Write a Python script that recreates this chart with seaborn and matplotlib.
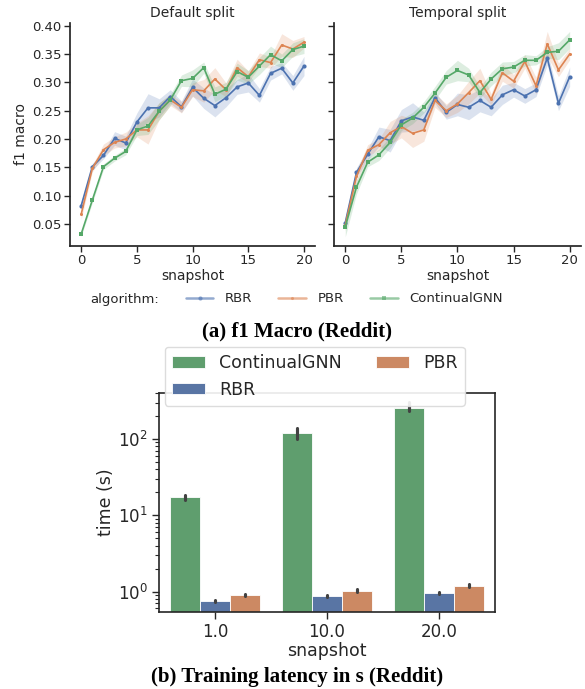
import numpy as np
import pandas as pd
import matplotlib
matplotlib.use("Agg")
import matplotlib.pyplot as plt
import seaborn as sns
from matplotlib.lines import Line2D

sns.set_theme(style="ticks")
plt.rcParams["font.family"] = ["DejaVu Sans"]

# ---------------- data ----------------
snapshots = list(range(21))
algorithms = ["RBR", "PBR", "ContinualGNN"]

# Default split: mean f1 macro and band half-width
rbr_def = [0.082, 0.151, 0.171, 0.201, 0.193, 0.230, 0.255, 0.255, 0.275, 0.257, 0.291,
           0.272, 0.259, 0.273, 0.292, 0.299, 0.277, 0.316, 0.325, 0.299, 0.329]
pbr_def = [0.067, 0.148, 0.181, 0.194, 0.200, 0.216, 0.216, 0.249, 0.269, 0.256, 0.287,
           0.285, 0.306, 0.287, 0.326, 0.310, 0.340, 0.335, 0.366, 0.359, 0.371]
gnn_def = [0.032, 0.092, 0.151, 0.166, 0.178, 0.216, 0.223, 0.249, 0.269, 0.303, 0.307,
           0.326, 0.279, 0.288, 0.319, 0.309, 0.329, 0.349, 0.338, 0.358, 0.364]
rbr_def_hw = [0.007, 0.006, 0.006, 0.012, 0.012, 0.016, 0.025, 0.016, 0.012, 0.010, 0.015,
              0.018, 0.020, 0.016, 0.013, 0.016, 0.012, 0.012, 0.010, 0.013, 0.017]
pbr_def_hw = [0.009, 0.006, 0.010, 0.010, 0.012, 0.012, 0.025, 0.015, 0.010, 0.010, 0.012,
              0.020, 0.020, 0.012, 0.015, 0.010, 0.012, 0.010, 0.020, 0.015, 0.010]
gnn_def_hw = [0.004, 0.005, 0.005, 0.005, 0.006, 0.010, 0.015, 0.015, 0.010, 0.010, 0.015,
              0.010, 0.013, 0.012, 0.015, 0.012, 0.015, 0.015, 0.012, 0.012, 0.013]

# Temporal split
rbr_tmp = [0.052, 0.141, 0.173, 0.204, 0.197, 0.232, 0.239, 0.233, 0.273, 0.247, 0.261,
           0.256, 0.268, 0.256, 0.278, 0.287, 0.276, 0.287, 0.343, 0.263, 0.310]
pbr_tmp = [0.048, 0.134, 0.180, 0.190, 0.211, 0.222, 0.210, 0.216, 0.268, 0.250, 0.262,
           0.282, 0.303, 0.270, 0.317, 0.302, 0.337, 0.294, 0.368, 0.322, 0.350]
gnn_tmp = [0.045, 0.115, 0.159, 0.172, 0.194, 0.225, 0.237, 0.256, 0.281, 0.309, 0.321,
           0.313, 0.282, 0.306, 0.324, 0.327, 0.339, 0.339, 0.353, 0.355, 0.375]
rbr_tmp_hw = [0.008, 0.008, 0.010, 0.017, 0.020, 0.020, 0.025, 0.015, 0.010, 0.012, 0.020,
              0.022, 0.020, 0.015, 0.017, 0.013, 0.013, 0.012, 0.012, 0.013, 0.017]
pbr_tmp_hw = [0.010, 0.010, 0.010, 0.010, 0.020, 0.020, 0.025, 0.020, 0.012, 0.012, 0.015,
              0.020, 0.022, 0.010, 0.015, 0.012, 0.012, 0.015, 0.022, 0.012, 0.010]
gnn_tmp_hw = [0.018, 0.012, 0.008, 0.010, 0.010, 0.010, 0.010, 0.010, 0.012, 0.012, 0.018,
              0.012, 0.010, 0.012, 0.012, 0.010, 0.010, 0.008, 0.010, 0.015, 0.015]

# Training latency (s)
bar_snapshots = ["1.0", "10.0", "20.0"]
bar_algorithms = ["ContinualGNN", "RBR", "PBR"]
time_gnn = [17.3, 119.0, 256.0]
time_gnn_lo = [16.0, 99.0, 231.0]
time_gnn_hi = [18.6, 141.0, 302.0]
time_rbr = [0.75, 0.88, 0.95]
time_rbr_lo = [0.72, 0.85, 0.92]
time_rbr_hi = [0.78, 0.91, 0.99]
time_pbr = [0.905, 1.03, 1.20]
time_pbr_lo = [0.87, 0.99, 1.15]
time_pbr_hi = [0.94, 1.07, 1.26]

# ---------------- styling ----------------
colors = {"RBR": "#4C72B0", "PBR": "#DD8452", "ContinualGNN": "#55A868"}
markers = {"RBR": "o", "PBR": "o", "ContinualGNN": "s"}
msizes = {"RBR": 3.0, "PBR": 2.2, "ContinualGNN": 3.2}


def long_df(means, hws):
    rows = []
    for alg, m, h in zip(algorithms, means, hws):
        for s, mv, hv in zip(snapshots, m, h):
            for v in (mv - hv, mv, mv + hv):
                rows.append({"snapshot": s, "algorithm": alg, "f1 macro": v})
    return pd.DataFrame(rows)


df_def = long_df([rbr_def, pbr_def, gnn_def], [rbr_def_hw, pbr_def_hw, gnn_def_hw])
df_tmp = long_df([rbr_tmp, pbr_tmp, gnn_tmp], [rbr_tmp_hw, pbr_tmp_hw, gnn_tmp_hw])

fig = plt.figure(figsize=(5.85, 6.89), dpi=100)
ax1 = fig.add_axes([0.1197, 0.643, 0.419, 0.3237])
ax2 = fig.add_axes([0.571, 0.643, 0.422, 0.3237], sharey=ax1)

for ax, df, title in ((ax1, df_def, "Default split"), (ax2, df_tmp, "Temporal split")):
    for alg in algorithms:
        sub = df[df["algorithm"] == alg]
        sns.lineplot(data=sub, x="snapshot", y="f1 macro", color=colors[alg],
                     marker=markers[alg], markersize=msizes[alg], markeredgewidth=0,
                     linewidth=1.2, estimator="median", errorbar=("pi", 100),
                     err_kws={"alpha": 0.2, "linewidth": 0}, ax=ax)
    ax.set_title(title, fontsize=10, color=".15", pad=4)
    ax.set_xlabel("snapshot", fontsize=10, labelpad=1)
    ax.set_xticks([0, 5, 10, 15, 20])
    ax.tick_params(labelsize=9.5, length=4, width=1, pad=2)
    sns.despine(ax=ax)

ax1.set_ylim(0.011, 0.405)
ax1.set_yticks([0.05, 0.10, 0.15, 0.20, 0.25, 0.30, 0.35, 0.40])
ax1.set_ylabel("f1 macro", fontsize=10, labelpad=3)
ax2.set_ylabel("")
plt.setp(ax2.get_yticklabels(), visible=False)

handles = [Line2D([], [], linestyle="none")]
for alg in algorithms:
    handles.append(Line2D([], [], color=colors[alg], marker=markers[alg],
                          markersize=msizes[alg], markeredgewidth=0, lw=1.8, alpha=0.6))
fig.legend(handles, ["algorithm:"] + algorithms, ncol=4, loc="center left",
           bbox_to_anchor=(0.068, 1 - 299 / 689), frameon=False, fontsize=9.5,
           handlelength=2.1, handletextpad=0.85, columnspacing=2.0)

fig.text(0.507, 1 - 331 / 689, "(a) f1 Macro (Reddit)", ha="center", va="center",
         fontsize=15, fontweight="bold", family=["Liberation Serif"], color="black")

# ---------------- bar chart ----------------
rows = []
for alg, mid, lo, hi in (("ContinualGNN", time_gnn, time_gnn_lo, time_gnn_hi),
                         ("RBR", time_rbr, time_rbr_lo, time_rbr_hi),
                         ("PBR", time_pbr, time_pbr_lo, time_pbr_hi)):
    for s, m, l, h in zip(bar_snapshots, mid, lo, hi):
        for v in (l, m, h):
            rows.append({"snapshot": s, "algorithm": alg, "time (s)": v})
df_bar = pd.DataFrame(rows)

ax3 = fig.add_axes([0.272, 0.1118, 0.574, 0.3178])
ax3.set_yscale("log")
sns.barplot(data=df_bar, x="snapshot", y="time (s)", hue="algorithm",
            order=bar_snapshots, hue_order=bar_algorithms, palette=colors,
            estimator="median", errorbar=("pi", 100),
            edgecolor="white", linewidth=0.6, ax=ax3)
ax3.set_ylim(0.54, 400)
ax3.set_xlabel("snapshot", fontsize=12.5, labelpad=1)
ax3.set_ylabel("time (s)", fontsize=12.5, labelpad=2)
ax3.tick_params(axis="both", which="major", labelsize=12, length=5, width=1, pad=3)
ax3.tick_params(axis="y", which="minor", length=3, width=0.8)
for sp in ax3.spines.values():
    sp.set_visible(True)
    sp.set_color(".15")
    sp.set_linewidth(1.2)

h3, l3 = ax3.get_legend_handles_labels()
if ax3.get_legend() is not None:
    ax3.get_legend().remove()
ax3.legend(h3, l3, ncol=2, loc="upper left", bbox_to_anchor=(0.282, 1 - 347 / 689),
           bbox_transform=fig.transFigure, borderaxespad=0, fontsize=12.5,
           handlelength=1.9, handleheight=0.65, handletextpad=0.8, columnspacing=2.0,
           frameon=True, framealpha=0.9, edgecolor="0.85", fancybox=True)

fig.text(0.507, 0.018, "(b) Training latency in s (Reddit)", ha="center", va="center",
         fontsize=15, fontweight="bold", family=["Liberation Serif"], color="black")

fig.savefig("out.png", dpi=100)
